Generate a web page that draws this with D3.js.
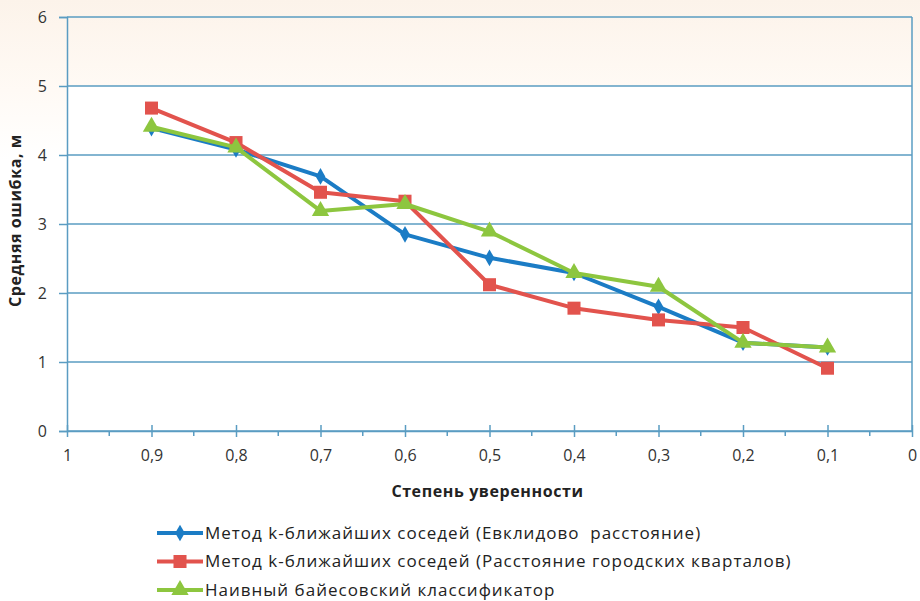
<!DOCTYPE html>
<html>
<head>
<meta charset="utf-8">
<script src="https://cdn.jsdelivr.net/npm/d3@7"></script>
<style>
  html, body { margin: 0; padding: 0; }
  body { width: 920px; height: 601px; overflow: hidden;
         background: linear-gradient(#fcf3ea 0px, #fffaf5 90px, #ffffff 160px); }
  text { font-family: "Open Sans", "Noto Sans", sans-serif; white-space: pre; }
</style>
</head>
<body>
<div id="chart"></div>
<script>
const confidence = [0.9, 0.8, 0.7, 0.6, 0.5, 0.4, 0.3, 0.2, 0.1];
const euclid = [4.39, 4.08, 3.69, 2.85, 2.51, 2.29, 1.8, 1.28, 1.21];
const manhattan = [4.68, 4.18, 3.46, 3.33, 2.12, 1.78, 1.61, 1.5, 0.91];
const bayes = [4.41, 4.11, 3.19, 3.29, 2.89, 2.29, 2.09, 1.28, 1.21];
const seriesNames = [
    "Метод k-ближайших соседей (Евклидово  расстояние)",
    "Метод k-ближайших соседей (Расстояние городских кварталов)",
    "Наивный байесовский классификатор"
];
const xTicks = [1, 0.9, 0.8, 0.7, 0.6, 0.5, 0.4, 0.3, 0.2, 0.1, 0];
const yTicks = [0, 1, 2, 3, 4, 5, 6];
const xTitle = "Степень уверенности";
const yTitle = "Средняя ошибка, м";

let margin = {top: 17, right: 8, bottom: 170, left: 67};
let width = 920 - margin.left - margin.right;
let height = 601 - margin.top - margin.bottom;

let x = d3.scaleLinear().domain([1, 0]).range([0, width]);
let y = d3.scaleLinear().domain([0, 6]).range([height, 0]);

let svg = d3.select("#chart").append("svg")
    .attr("width", 920)
    .attr("height", 601)
    .append("g")
    .attr("transform", "translate(" + margin.left + "," + margin.top + ")");

let gridColor = "#5a9cc2";

// white plot area below the top band
svg.append("rect")
    .attr("x", 0).attr("y", y(5))
    .attr("width", width).attr("height", y(0) - y(5))
    .attr("fill", "#ffffff");

// horizontal grid
svg.append("g")
    .selectAll("line")
    .data(yTicks)
    .enter().append("line")
    .attr("x1", 0).attr("x2", width)
    .attr("y1", d => y(d)).attr("y2", d => y(d))
    .attr("stroke", gridColor)
    .attr("stroke-width", 1.5);

// right border
svg.append("line")
    .attr("x1", width).attr("x2", width)
    .attr("y1", 0).attr("y2", height)
    .attr("stroke", gridColor).attr("stroke-width", 1.5);

// y axis
let yAxis = svg.append("g")
    .call(d3.axisLeft(y).tickValues(yTicks).tickSize(8).tickPadding(12).tickFormat(d3.format("d")));
yAxis.select(".domain").attr("stroke", gridColor).attr("stroke-width", 1.5);
yAxis.selectAll(".tick line").attr("stroke", gridColor).attr("stroke-width", 1.5);
yAxis.selectAll("text").attr("font-size", 16).attr("fill", "#333").attr("dy", "0.35em");

// x axis: minor ticks
let minor = d3.range(0.05, 1, 0.1);
svg.append("g")
    .selectAll("line")
    .data(minor)
    .enter().append("line")
    .attr("x1", d => x(d)).attr("x2", d => x(d))
    .attr("y1", height).attr("y2", height + 5)
    .attr("stroke", gridColor).attr("stroke-width", 1.5);

let xAxis = svg.append("g")
    .attr("transform", "translate(0," + height + ")")
    .call(d3.axisBottom(x).tickValues(xTicks).tickSizeInner(6).tickSizeOuter(0).tickPadding(13)
        .tickFormat(d => d === 0 || d === 1 ? d3.format("d")(d) : d3.format(".1f")(d).replace(".", ",")));
xAxis.select(".domain").attr("stroke", gridColor).attr("stroke-width", 1.5);
xAxis.selectAll(".tick line").attr("y1", -6).attr("stroke", gridColor).attr("stroke-width", 1.5);
xAxis.selectAll("text").attr("font-size", 16).attr("fill", "#333");

// axis titles
svg.append("text")
    .attr("x", x(0.5) - 2)
    .attr("y", height + 66)
    .attr("text-anchor", "middle")
    .attr("font-size", 16)
    .attr("letter-spacing", 0.6)
    .attr("font-weight", 700)
    .attr("fill", "#222")
    .text(xTitle);

svg.append("text")
    .attr("transform", "translate(" + (-46) + "," + y(3.05) + ") rotate(-90)")
    .attr("text-anchor", "middle")
    .attr("font-size", 16)
    .attr("letter-spacing", 0.6)
    .attr("font-weight", 700)
    .attr("fill", "#222")
    .text(yTitle);

let series = [
    {name: seriesNames[0], values: euclid, color: "#1b7cc5", marker: "diamond"},
    {name: seriesNames[1], values: manhattan, color: "#e2534d", marker: "square"},
    {name: seriesNames[2], values: bayes, color: "#8dc63f", marker: "triangle"}
];

let symbolType = {diamond: d3.symbolDiamond, square: d3.symbolSquare, triangle: d3.symbolTriangle};
let symbolSize = {diamond: 80, square: 170, triangle: 130};

let line = d3.line()
    .x((d, i) => x(confidence[i]))
    .y(d => y(d));

for (let s of series) {
    let g = svg.append("g");
    g.append("path")
        .attr("d", line(s.values))
        .attr("fill", "none")
        .attr("stroke", s.color)
        .attr("stroke-width", 4)
        .attr("stroke-linejoin", "round");
    g.selectAll("path.marker")
        .data(s.values)
        .enter().append("path")
        .attr("class", "marker")
        .attr("transform", (d, i) => "translate(" + x(confidence[i]) + "," + y(d) + ")")
        .attr("d", d3.symbol().type(symbolType[s.marker]).size(symbolSize[s.marker]))
        .attr("fill", s.color);
}

// legend
let legend = svg.append("g")
    .attr("transform", "translate(" + (157 - margin.left) + "," + (533 - margin.top) + ")");
series.forEach((s, i) => {
    let row = legend.append("g").attr("transform", "translate(0," + (i * 28.5) + ")");
    row.append("line")
        .attr("x1", 0).attr("x2", 46)
        .attr("y1", 0).attr("y2", 0)
        .attr("stroke", s.color).attr("stroke-width", 4);
    row.append("path")
        .attr("transform", "translate(23,0)")
        .attr("d", d3.symbol().type(symbolType[s.marker]).size(symbolSize[s.marker]))
        .attr("fill", s.color);
    row.append("text")
        .attr("x", 48)
        .attr("y", 0)
        .attr("dy", "0.35em")
        .attr("font-size", 17)
        .attr("letter-spacing", 1.0)
        .attr("fill", "#222")
        .text(s.name);
});
</script>
</body>
</html>
